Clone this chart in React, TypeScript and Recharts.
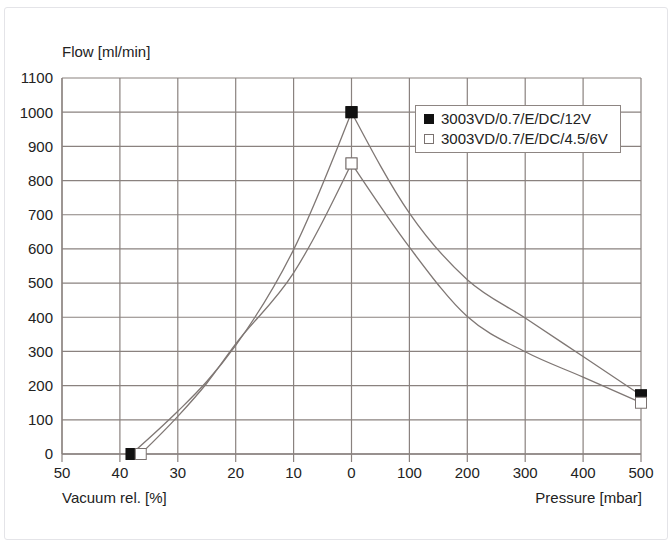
import React from "react";
import { LineChart, Line, XAxis, YAxis, CartesianGrid } from "recharts";

// x position: vacuum v% -> -v/10, pressure p mbar -> p/100
const xTicks = [-5, -4, -3, -2, -1, 0, 1, 2, 3, 4, 5];
const yTicks = [0, 100, 200, 300, 400, 500, 600, 700, 800, 900, 1000, 1100];

const series12V = [
  { x: -3.8, y: 0, mark: true },
  { x: -3.0, y: 125 },
  { x: -2.5, y: 212 },
  { x: -2.0, y: 318 },
  { x: -1.0, y: 598 },
  { x: 0, y: 1000, mark: true },
  { x: 1, y: 705 },
  { x: 2, y: 510 },
  { x: 3, y: 398 },
  { x: 4, y: 285 },
  { x: 5, y: 172, mark: true },
];

const series6V = [
  { x: -3.64, y: 0, mark: true },
  { x: -3.0, y: 110 },
  { x: -2.5, y: 207 },
  { x: -2.0, y: 322 },
  { x: -1.0, y: 530 },
  { x: 0, y: 850, mark: true },
  { x: 1, y: 605 },
  { x: 2, y: 402 },
  { x: 3, y: 299 },
  { x: 4, y: 225 },
  { x: 5, y: 150, mark: true },
];

const seriesNames = ["3003VD/0.7/E/DC/12V", "3003VD/0.7/E/DC/4.5/6V"];

const gridColor = "#8a827f";
const lineColor = "#7f7774";
const font = "'Liberation Sans', Arial, Helvetica, sans-serif";

const fmtX = (t: number) => (t < 0 ? String(-t * 10) : String(t * 100));

// vacuum branch and pressure branch are drawn separately so the peak stays sharp
const vacSide = (s: { x: number }[]) => s.filter((p) => p.x <= 0);
const presSide = (s: { x: number }[]) => s.filter((p) => p.x >= 0);

const squareDot = (fill: string) => (props: any) => {
  const { cx, cy, payload, index } = props;
  if (!payload || !payload.mark) return <g key={index} />;
  return (
    <rect
      key={index}
      x={cx - 5.5}
      y={cy - 5.5}
      width={11}
      height={11}
      fill={fill}
      stroke={fill === "#fff" ? "#7a7270" : "#111"}
      strokeWidth={1}
    />
  );
};

const LegendBox = () => (
  <div
    style={{
      position: "absolute",
      left: 415,
      top: 105,
      border: "1px solid #8d8582",
      background: "#fff",
      padding: "3px 8px",
      fontSize: 15,
      color: "#222",
      lineHeight: "20px",
      width: 188,
    }}
  >
    {seriesNames.map((n, i) => (
      <div key={n} style={{ display: "flex", alignItems: "center" }}>
        <span
          style={{
            display: "inline-block",
            width: 10,
            height: 10,
            marginRight: 7,
            background: i === 0 ? "#111" : "#fff",
            border: i === 0 ? "1px solid #111" : "1px solid #7a7270",
            boxSizing: "border-box",
          }}
        />
        {n}
      </div>
    ))}
  </div>
);

const series = [
  { data: series12V, fill: "#111", name: seriesNames[0] },
  { data: series6V, fill: "#fff", name: seriesNames[1] },
];

export default function App() {
  return (
    <div
      style={{
        position: "absolute",
        left: 0,
        top: 0,
        width: 671,
        height: 544,
        background: "#fff",
        fontFamily: font,
      }}
    >
      <div
        style={{
          position: "absolute",
          left: 4,
          top: 7,
          width: 662,
          height: 531,
          border: "1px solid #e4e4e8",
          borderRadius: 3,
        }}
      />
      <div style={{ position: "absolute", left: 62, top: 43, fontSize: 15, color: "#222" }}>
        Flow [ml/min]
      </div>
      <div style={{ position: "absolute", left: 62, top: 489, fontSize: 15, color: "#222" }}>
        Vacuum rel. [%]
      </div>
      <div style={{ position: "absolute", right: 29, top: 489, fontSize: 15, color: "#222" }}>
        Pressure [mbar]
      </div>
      <LineChart
        width={671}
        height={544}
        margin={{ top: 78, right: 30, bottom: 60, left: 2 }}
        style={{ position: "absolute", left: 0, top: 0 }}
      >
        <CartesianGrid
          stroke={gridColor}
          strokeWidth={1.2}
          horizontalValues={yTicks}
          verticalValues={xTicks}
        />
        <XAxis
          type="number"
          dataKey="x"
          domain={[-5, 5]}
          ticks={xTicks}
          tickFormatter={fmtX}
          interval={0}
          height={30}
          tickSize={8}
          tickMargin={5}
          axisLine={{ stroke: gridColor, strokeWidth: 1.4 }}
          tickLine={{ stroke: gridColor, strokeWidth: 1.2 }}
          tick={{ fontSize: 15, fill: "#222", fontFamily: font }}
        />
        <YAxis
          type="number"
          domain={[0, 1100]}
          ticks={yTicks}
          interval={0}
          width={60}
          tickSize={6}
          tickMargin={3}
          tickLine={false}
          axisLine={{ stroke: gridColor, strokeWidth: 1.2 }}
          tick={{ fontSize: 15, fill: "#222", fontFamily: font }}
        />
        {series.map((s) =>
          [vacSide(s.data), presSide(s.data)].map((d, j) => (
            <Line
              key={s.name + j}
              data={d}
              dataKey="y"
              name={s.name}
              type="monotone"
              stroke={lineColor}
              strokeWidth={1.3}
              dot={squareDot(s.fill)}
              activeDot={false}
              isAnimationActive={false}
            />
          ))
        )}
      </LineChart>
      <LegendBox />
    </div>
  );
}
